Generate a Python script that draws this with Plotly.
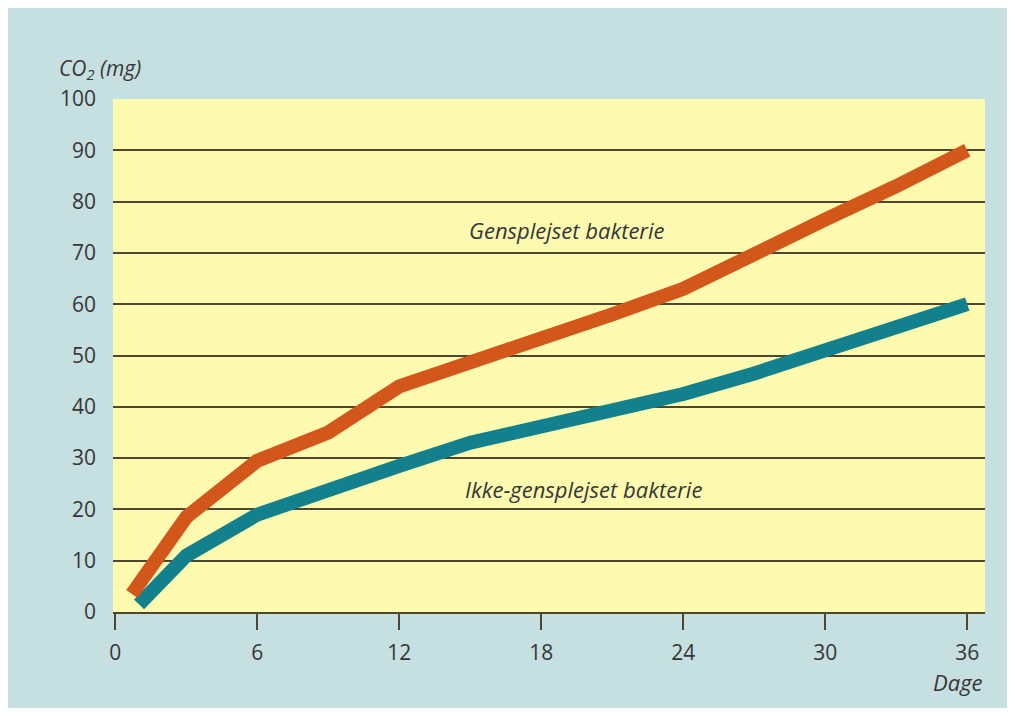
import plotly.graph_objects as go

# Data
days_gen = [0.7, 3, 6, 9, 12, 15, 18, 21, 24, 27, 30, 33, 36]
co2_gen = [3.5, 18.5, 29.5, 35, 44, 48.5, 53.5, 58, 63, 70, 76.5, 83, 90]

days_ikke = [1, 3, 6, 9, 12, 15, 18, 21, 24, 27, 30, 33, 36]
co2_ikke = [1.5, 11, 19, 24, 28.5, 33, 36, 39, 42.5, 46.5, 51, 55, 60]

x_ticks = [0, 6, 12, 18, 24, 30, 36]
y_ticks = [0, 10, 20, 30, 40, 50, 60, 70, 80, 90, 100]

label_gen = "Gensplejset bakterie"
label_ikke = "Ikke-gensplejset bakterie"

FONT = "Open Sans, Noto Sans, sans-serif"
TXT = "#363636"
GRID = "#4d4630"

fig = go.Figure()
fig.add_trace(go.Scatter(x=days_ikke, y=co2_ikke, mode="lines",
                         line=dict(color="#13808e", width=14),
                         name=label_ikke, showlegend=False))
fig.add_trace(go.Scatter(x=days_gen, y=co2_gen, mode="lines",
                         line=dict(color="#d3561b", width=14),
                         name=label_gen, showlegend=False))

fig.add_annotation(x=19.1, y=74.5, xref="x", yref="y", text=f"<i>{label_gen}</i>",
                   showarrow=False, font=dict(family=FONT, size=22, color=TXT))
fig.add_annotation(x=19.8, y=24, xref="x", yref="y", text=f"<i>{label_ikke}</i>",
                   showarrow=False, font=dict(family=FONT, size=22, color=TXT))
fig.add_annotation(x=-0.064, y=1.058, xref="paper", yref="paper", xanchor="left",
                   yanchor="middle", text="<i>CO<sub>2</sub> (mg)</i>", showarrow=False,
                   font=dict(family=FONT, size=21, color=TXT))
fig.add_annotation(x=1.0, y=-0.136, xref="paper", yref="paper", xanchor="right",
                   yanchor="middle", text="<i>Dage</i>", showarrow=False,
                   font=dict(family=FONT, size=22, color=TXT))

fig.update_layout(
    width=999, height=700,
    margin=dict(l=105, r=22, t=91, b=96),
    paper_bgcolor="#c6dfe1",
    plot_bgcolor="#fefbb0",
    font=dict(family=FONT, size=21, color=TXT),
    xaxis=dict(range=[-0.1, 36.75], tickvals=x_ticks, ticks="outside", ticklen=16,
               tickwidth=1.5, tickcolor=GRID, showgrid=False, zeroline=False,
               showline=True, linecolor=GRID, linewidth=2, ticklabelstandoff=5,
               tickfont=dict(size=21, color=TXT)),
    yaxis=dict(range=[0, 100], tickvals=y_ticks, showgrid=True, gridcolor=GRID,
               gridwidth=1.5, zeroline=False, showline=False, ticks="",
               ticklabelstandoff=16, tickfont=dict(size=21, color=TXT)),
)

fig.write_html("out.html")
